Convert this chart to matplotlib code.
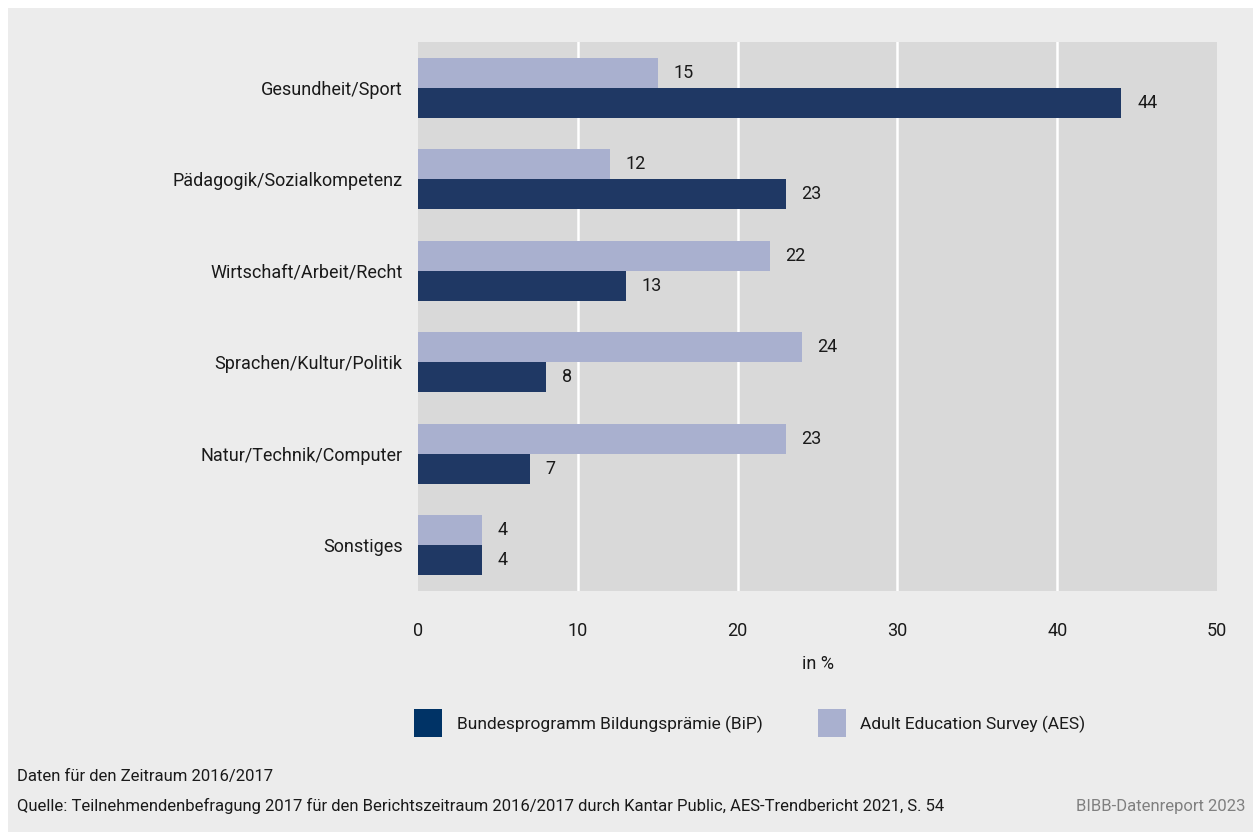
import matplotlib
matplotlib.use("Agg")
import matplotlib.pyplot as plt
from matplotlib.patches import Rectangle
from matplotlib import font_manager

categories = ["Gesundheit/Sport", "Pädagogik/Sozialkompetenz", "Wirtschaft/Arbeit/Recht",
              "Sprachen/Kultur/Politik", "Natur/Technik/Computer", "Sonstiges"]
bip = [44, 23, 13, 8, 7, 4]
aes = [15, 12, 22, 24, 23, 4]
xticks = [0, 10, 20, 30, 40, 50]
legend_labels = ["Bundesprogramm Bildungsprämie (BiP)", "Adult Education Survey (AES)"]

avail = {f.name for f in font_manager.fontManager.ttflist}
fam = "Liberation Sans Narrow" if "Liberation Sans Narrow" in avail else "Roboto"
plt.rcParams['font.family'] = [fam, 'DejaVu Sans']

W, H = 1253, 832
fig = plt.figure(figsize=(W/100, H/100), dpi=100, facecolor="white")
fig.patches.append(Rectangle((8/W, 0), 1, 1 - 8/H, transform=fig.transFigure,
                             facecolor="#ececec", edgecolor="none", zorder=-10))

left, right, top, bottom = 418, 1217, 42, 591
ax = fig.add_axes([left/W, 1 - bottom/H, (right-left)/W, (bottom-top)/H])
ax.set_facecolor("#d9d9d9")
for s in ax.spines.values():
    s.set_visible(False)

col_bip = "#1f3864"
col_aes = "#a9b0cf"
h = 0.33
y = list(range(len(categories)))
for t in xticks[1:-1]:
    ax.axvline(t, color="white", linewidth=1.8, zorder=1)
ax.barh([i - h/2 for i in y], aes, height=h, color=col_aes, zorder=3)
ax.barh([i + h/2 for i in y], bip, height=h, color=col_bip, zorder=3)
for i in y:
    ax.text(aes[i] + 1.0, i - h/2, str(aes[i]), va="center", ha="left", fontsize=13, color="#1a1a1a")
    ax.text(bip[i] + 1.0, i + h/2, str(bip[i]), va="center", ha="left", fontsize=13, color="#1a1a1a")

ax.set_xlim(0, 50)
ax.set_ylim(5.5, -0.5)
ax.set_xticks(xticks)
ax.set_xticklabels([str(t) for t in xticks], fontsize=13, color="#1a1a1a")
ax.set_yticks(y)
ax.set_yticklabels(categories, fontsize=13, color="#1a1a1a")
ax.tick_params(axis="both", length=0)
ax.tick_params(axis="x", pad=22)
ax.tick_params(axis="y", pad=11)

fig.text(818/W, 1 - 664/H, "in %", ha="center", va="center", fontsize=13, color="#1a1a1a")

# legend
fig.patches.append(Rectangle((414/W, 1 - 737/H), 28/W, 28/H, transform=fig.transFigure,
                             facecolor="#003366", edgecolor="none"))
fig.text(457/W, 1 - 724/H, legend_labels[0], ha="left", va="center", fontsize=12.5, color="#1a1a1a")
fig.patches.append(Rectangle((818/W, 1 - 737/H), 28/W, 28/H, transform=fig.transFigure,
                             facecolor=col_aes, edgecolor="none"))
fig.text(860/W, 1 - 724/H, legend_labels[1], ha="left", va="center", fontsize=12.5, color="#1a1a1a")

fig.text(17/W, 1 - 777/H, "Daten für den Zeitraum 2016/2017", ha="left", va="center",
         fontsize=12, color="#1a1a1a")
fig.text(17/W, 1 - 806/H,
         "Quelle: Teilnehmendenbefragung 2017 für den Berichtszeitraum 2016/2017 durch Kantar Public, AES-Trendbericht 2021, S. 54",
         ha="left", va="center", fontsize=12, color="#1a1a1a")
fig.text(1245/W, 1 - 806/H, "BIBB-Datenreport 2023", ha="right", va="center",
         fontsize=12, color="#808080")

fig.savefig("out.png", dpi=100, facecolor=fig.get_facecolor())
